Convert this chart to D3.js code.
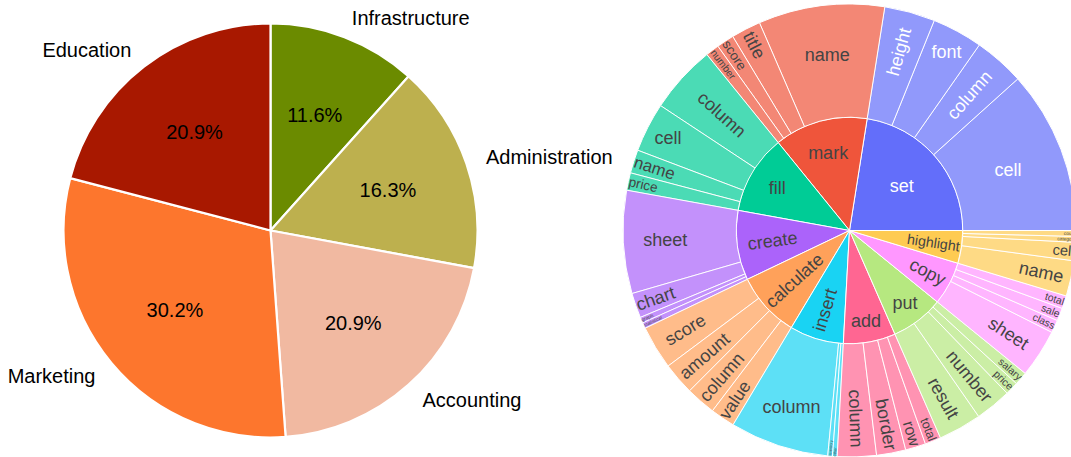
<!DOCTYPE html>
<html><head><meta charset="utf-8">
<script src="https://cdn.jsdelivr.net/npm/d3@7"></script>
<style>body{margin:0;background:#fff} svg{display:block}</style>
</head><body><svg id="c" width="1071" height="457"></svg>
<script>
// ---------- data ----------
const pieLabels = ["Infrastructure", "Administration", "Accounting", "Marketing", "Education"];
const pieValues = [5, 7, 9, 13, 9];
const pieColors = ["#6b8b00", "#bdb04e", "#f1b9a1", "#fd762d", "#a81800"];

const verbs = ["set", "mark", "fill", "create", "calculate", "insert", "add", "put", "copy", "highlight"];
const verbColors = ["#636efa", "#EF553B", "#00cc96", "#ab63fa", "#FFA15A", "#19d3f3", "#FF6692", "#B6E880", "#FF97FF", "#FECB52"];
const nouns = [
  ["cell", "column", "font", "height"],
  ["name", "title", "score", "number"],
  ["column", "cell", "name", "price"],
  ["sheet", "chart", "graph", "statistical"],
  ["score", "amount", "column", "value"],
  ["column", "inventory", "other"],
  ["column", "border", "row", "total"],
  ["result", "number", "price", "salary"],
  ["sheet", "class", "sale", "total"],
  ["name", "cell", "category", "count"]
];
const nounValues = [
  [42, 13, 13, 13],
  [32.4, 7.6, 4.5, 3.5],
  [17.5, 12.7, 6, 4.5],
  [26.4, 6.4, 1.5, 1.5],
  [11.2, 8.3, 7.7, 6.3],
  [25.4, 1.2, 1.2],
  [10, 7.5, 5.2, 4.1],
  [11.1, 9.3, 3.4, 3.4],
  [12.4, 3.3, 3.3, 3.3],
  [9.1, 4.7, 1.5, 1.5]
];

const FONT = "'Liberation Sans', Arial, Helvetica, sans-serif";
const svg = d3.select("#c");

// ---------- pie (left) ----------
const pcx = 270.5, pcy = 230.5, PR = 207;
const pieG = svg.append("g").attr("transform", `translate(${pcx},${pcy})`);
const total = d3.sum(pieValues);
const arcsP = d3.pie().sort(null).value(d => d)(pieValues);
const arcP = d3.arc().innerRadius(0).outerRadius(PR);
pieG.selectAll("path.p").data(arcsP).join("path")
  .attr("d", arcP).attr("fill", (d, i) => pieColors[i])
  .attr("stroke", "#fff").attr("stroke-width", 2.2).attr("stroke-linejoin", "round");
const fmtPct = d3.format(".1%");
arcsP.forEach((d, i) => {
  const m = (d.startAngle + d.endAngle) / 2;
  const sx = Math.sin(m), sy = -Math.cos(m);
  const t = pieG.append("text").text(fmtPct(pieValues[i] / total))
    .attr("font-family", FONT).attr("font-size", 20).attr("fill", "#000");
  const bb = t.node().getBBox();
  t.attr("x", 0.6 * PR * sx - bb.width / 2).attr("y", 0.6 * PR * sy - (bb.y + bb.height / 2));
  const l = pieG.append("text").text(pieLabels[i])
    .attr("font-family", FONT).attr("font-size", 20).attr("fill", "#000");
  const lb = l.node().getBBox();
  const lx = 1.1 * PR * sx, ly = 1.1 * PR * sy;
  l.attr("x", sx >= 0 ? lx : lx - lb.width).attr("y", ly - (lb.y + lb.height / 2));
});

// ---------- sunburst (right) ----------
const scx = 849.5, scy = 230.5, SR = 226.5;
const sunG = svg.append("g").attr("transform", `translate(${scx},${scy})`);
const rootData = {
  name: "root",
  children: verbs.map((v, i) => ({
    name: v, color: verbColors[i],
    children: nouns[i].map((n, j) => ({ name: n, value: nounValues[i][j] }))
  }))
};
const root = d3.hierarchy(rootData).sum(d => d.value || 0);
d3.partition().size([2 * Math.PI, 1])(root);
const rScale = d3.scaleLinear().domain([0, 2]).range([0, SR]);
const nodes = root.descendants().filter(d => d.depth > 0);
nodes.forEach(d => {
  d.rpx0 = rScale(d.depth - 1);
  d.rpx1 = rScale(d.depth);
  const top = d.depth === 1 ? d : d.parent;
  d.baseColor = top.data.color;
});
// x0..x1 = counterclockwise math angle from 3 o'clock
const arcS = d3.arc()
  .startAngle(d => Math.PI / 2 - d.x0)
  .endAngle(d => Math.PI / 2 - d.x1)
  .innerRadius(d => d.rpx0).outerRadius(d => d.rpx1);
sunG.selectAll("path.s").data(nodes).join("path")
  .attr("d", arcS)
  .attr("fill", d => d.baseColor)
  .attr("stroke", "#fff").attr("stroke-width", 1)
  .style("opacity", d => d.depth === 2 ? 0.7 : 1);

// plotly-like inside text fitting
const TEXTPAD = 3;
function maxHalf(a, half, r, ring) {
  const q = a + 1 / (2 * Math.tan(half));
  return r * Math.min(1 / (Math.sqrt(q * q + 0.5) + q), ring / (Math.sqrt(a * a + ring / 2) + a));
}
function calcRad(bb, r, ring, half) {
  const rp = Math.max(0, r - 2 * TEXTPAD);
  const a = bb.width / bb.height;
  const s = maxHalf(a, half, rp, ring);
  return { scale: s * 2 / bb.height, rCenter: Math.cos(s / rp) - a * s / rp };
}
function calcTan(bb, r, ring, half) {
  const rp = Math.max(0, r - 2 * TEXTPAD);
  const a = bb.height / bb.width;
  const s = maxHalf(a, half, rp, ring);
  return { scale: s * 2 / bb.width, rCenter: Math.cos(s / rp) - a * s / rp };
}
function calcRotate(t) { return ((t * 180 / Math.PI) % 360 + 720) % 180 - 90; }
function fit(bb, d) {
  const r = d.rpx1, ring = 1 - d.rpx0 / d.rpx1;
  const half = 0.5 * Math.min(d.x1 - d.x0, Math.PI);
  const mid = (d.x0 + d.x1) / 2;
  const all = [];
  const cross = (ang, key) => {
    if (d.x0 < ang && ang < d.x1) {
      const edge = Math.min(ang - d.x0, d.x1 - ang);
      const t = key === "tan" ? calcTan(bb, r, ring, edge) : calcRad(bb, r, ring, edge);
      t.rotate = 0; t.angle = ang; all.push(t);
    }
  };
  [Math.PI / 2, 3 * Math.PI / 2].forEach(a => cross(a, "tan"));
  [0, Math.PI, 2 * Math.PI].forEach(a => cross(a, "rad"));
  const rIns = Math.min(1 / (1 + 1 / Math.sin(half)), ring / 2);
  const D = Math.hypot(bb.width, bb.height);
  const h = { scale: rIns * r * 2 / D, rCenter: 1 - rIns, rotate: 0, angle: mid };
  if (h.scale >= 1) return h;
  all.push(h);
  const pieT = Math.PI / 2 - mid;
  const rt = calcRad(bb, r, ring, half); rt.rotate = calcRotate(pieT); rt.angle = mid; all.push(rt);
  const tt = calcTan(bb, r, ring, half); tt.rotate = calcRotate(pieT + Math.PI / 2); tt.angle = mid; all.push(tt);
  let best = all[0];
  all.forEach(t => { if (t.scale > best.scale) best = t; });
  return best;
}
function brightness(c) { const k = d3.rgb(c); return (k.r * 299 + k.g * 587 + k.b * 114) / 1000; }

nodes.forEach(d => {
  const t = sunG.append("text").text(d.data.name)
    .attr("font-family", FONT).attr("font-size", 18)
    .attr("fill", brightness(d.baseColor) >= 128 ? "#444" : "#fff");
  const bb = t.node().getBBox();
  const tr = fit(bb, d);
  const s = Math.min(1, tr.scale);
  const rc = tr.rCenter * d.rpx1;
  const tx = rc * Math.cos(tr.angle), ty = -rc * Math.sin(tr.angle);
  const bcx = bb.x + bb.width / 2, bcy = bb.y + bb.height / 2;
  t.attr("transform", `translate(${tx},${ty}) rotate(${tr.rotate}) scale(${s}) translate(${-bcx},${-bcy})`);
});
</script></body></html>
